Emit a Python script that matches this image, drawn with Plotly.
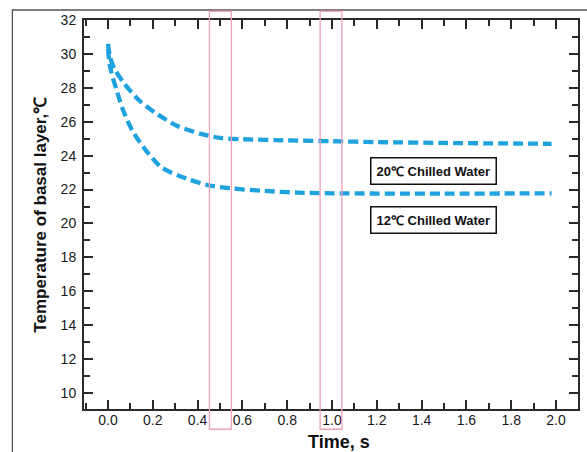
import plotly.graph_objects as go

# ---- data ----
time_20 = [0.0, 0.01, 0.03, 0.07, 0.14, 0.22, 0.31, 0.41, 0.50, 0.60, 0.80, 1.00, 1.20, 1.50, 1.98]
temp_20 = [30.6, 29.8, 29.1, 28.3, 27.25, 26.45, 25.75, 25.3, 25.05, 24.97, 24.9, 24.85, 24.8, 24.75, 24.7]

time_12 = [0.0, 0.01, 0.04, 0.07, 0.11, 0.17, 0.24, 0.35, 0.45, 0.55, 0.70, 0.85, 1.00, 1.50, 1.98]
temp_12 = [30.3, 29.2, 27.8, 26.6, 25.45, 24.3, 23.3, 22.65, 22.25, 22.07, 21.92, 21.82, 21.78, 21.76, 21.78]

labels = ["20℃ Chilled Water", "12℃ Chilled Water"]
label_pos = [(1.453, 23.12), (1.453, 20.18)]
windows = [(0.453, 0.551), (0.947, 1.044)]

x_ticks = [0.0, 0.2, 0.4, 0.6, 0.8, 1.0, 1.2, 1.4, 1.6, 1.8, 2.0]
x_ticktext = ["0.0", "0.2", "0.4", "0.6", "0.8", "1.0", "1.2", "1.4", "1.6", "1.8", "2.0"]
y_ticks = [10, 12, 14, 16, 18, 20, 22, 24, 26, 28, 30, 32]

x_range = [-0.107, 2.098]
y_range = [9.06, 32.0]

LINE_COLOR = "#1ea3de"
AXIS_COLOR = "#2a2a2a"
FONT = "Liberation Sans, Arial, sans-serif"

fig = go.Figure()
for t, v in [(time_20, temp_20), (time_12, temp_12)]:
    fig.add_trace(go.Scatter(
        x=t, y=v, mode="lines",
        line=dict(color=LINE_COLOR, width=4.3, dash="10px,5px", shape="spline", smoothing=0.8),
        showlegend=False, hoverinfo="skip"))

axis_common = dict(
    showline=True, linecolor=AXIS_COLOR, linewidth=2,
    ticks="inside", tickcolor=AXIS_COLOR, tickwidth=1.5, ticklen=9,
    mirror="allticks", showgrid=False, zeroline=False,
    tickfont=dict(family=FONT, size=14, color="#1a1a1a"),
)

fig.update_xaxes(
    range=x_range, tickmode="array", tickvals=x_ticks, ticktext=x_ticktext,
    minor=dict(dtick=0.1, tick0=0, ticks="inside", ticklen=6, tickwidth=1.5, tickcolor=AXIS_COLOR, showgrid=False),
    ticklabelstandoff=-3,
    **axis_common)
fig.update_yaxes(
    range=y_range, tickmode="array", tickvals=y_ticks,
    minor=dict(dtick=1, tick0=0, ticks="inside", ticklen=6, tickwidth=1.5, tickcolor=AXIS_COLOR, showgrid=False),
    ticklabelstandoff=3,
    **axis_common)

shapes = []
for x0, x1 in windows:
    shapes.append(dict(type="rect", xref="x", yref="paper", x0=x0, x1=x1, y0=-0.052, y1=1.022,
                       line=dict(color="#f0a0b8", width=1.3), fillcolor="rgba(0,0,0,0)"))
# outer frame
shapes.append(dict(type="rect", xref="paper", yref="paper", x0=-0.145, x1=1.2, y0=-0.3, y1=1.0257,
                   line=dict(color="#555", width=1.3), fillcolor="rgba(0,0,0,0)", layer="below"))

annotations = []
for txt, (ax, ay) in zip(labels, label_pos):
    annotations.append(dict(x=ax, y=ay, xref="x", yref="y", text=txt, showarrow=False,
                            font=dict(family=FONT, size=13, color="#111", weight="bold"),
                            bordercolor="#111", borderwidth=1.5, borderpad=5, bgcolor="white"))
annotations.append(dict(x=-0.0887, y=0.5, xref="paper", yref="paper", text="Temperature of basal layer,℃",
                        textangle=-90, showarrow=False, xanchor="center", yanchor="middle",
                        font=dict(family=FONT, size=17, color="#111", weight="bold")))
annotations.append(dict(x=0.516, y=-0.084, xref="paper", yref="paper", text="Time, s",
                        showarrow=False, xanchor="center", yanchor="middle",
                        font=dict(family=FONT, size=18, color="#111", weight="bold")))

fig.update_layout(
    width=587, height=452,
    margin=dict(l=84, r=7, t=20, b=43),
    paper_bgcolor="white", plot_bgcolor="white",
    shapes=shapes, annotations=annotations,
)

fig.write_html("out.html")
